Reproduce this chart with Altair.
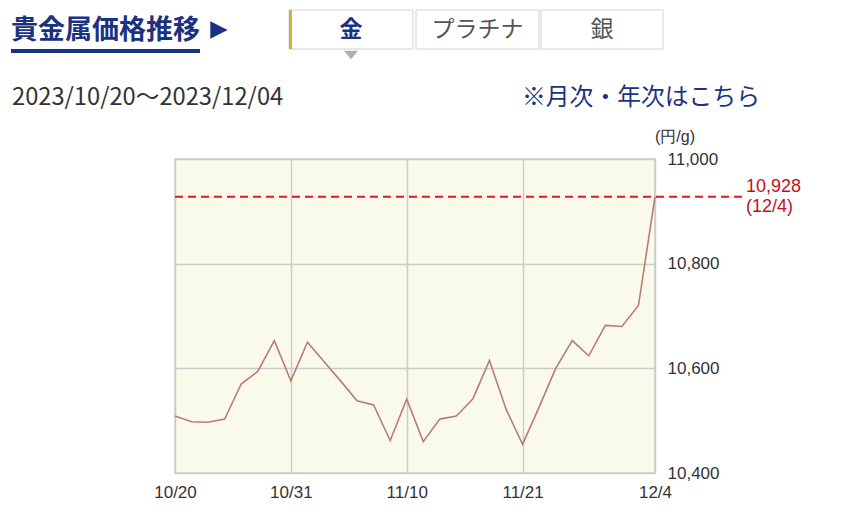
import altair as alt
import pandas as pd

# ---- data ----
dates = ["10/20", "10/23", "10/24", "10/25", "10/26", "10/27", "10/30", "10/31",
         "11/1", "11/2", "11/6", "11/7", "11/8", "11/9", "11/10",
         "11/13", "11/14", "11/15", "11/16", "11/17", "11/20", "11/21",
         "11/22", "11/24", "11/27", "11/28", "11/29", "11/30", "12/1", "12/4"]
prices = [10509, 10498, 10497, 10503, 10570, 10594, 10653, 10576,
          10650, 10613, 10576, 10538, 10530, 10462, 10541,
          10460, 10503, 10509, 10542, 10615, 10522, 10455,
          10526, 10600, 10653, 10624, 10682, 10680, 10720, 10928]
x_ticks = ["10/20", "10/31", "11/10", "11/21", "12/4"]
y_ticks = [10400, 10600, 10800, 11000]
latest_price = 10928
latest_label = "10,928"
latest_date = "(12/4)"
title_text = "貴金属価格推移"
tabs = ["金", "プラチナ", "銀"]
period_text = "2023/10/20〜2023/12/04"
link_text = "※月次・年次はこちら"
unit_text = "(円/g)"

df = pd.DataFrame({"i": list(range(len(dates))), "date": dates, "price": prices})
ref_df = pd.DataFrame({"price": [latest_price]})
tick_idx = [dates.index(d) for d in x_ticks]
label_expr = "[" + ",".join("'" + d + "'" for d in dates) + "][datum.value]"

CJK = "Noto Sans CJK JP"
NUM = "Liberation Sans"
NAVY = "#1a3281"
RED_TXT = "#c0101c"

one = alt.Data(values=[{"k": 1}])

xenc = alt.X("i:Q", scale=alt.Scale(domain=[0, len(dates) - 1], nice=False, zero=False),
             axis=alt.Axis(values=tick_idx, labelExpr=label_expr, title=None, labelAngle=0,
                           ticks=False, domain=False, grid=True, labelPadding=11,
                           labelOverlap=False, labelFlush=False, labelBound=False))
yaxis = alt.Axis(values=y_ticks, format=",.0f", orient="right", title=None,
                 ticks=False, domain=False, grid=True, labelPadding=12)
yscale = alt.Scale(domain=[10400, 11000], nice=False, zero=False)
yenc = alt.Y("price:Q", scale=yscale, axis=yaxis)

line = alt.Chart(df).mark_line(color="#b97b7b", strokeWidth=1.6).encode(x=xenc, y=yenc)

ref = alt.Chart(ref_df).mark_rule(color="#e8141e", strokeDash=[8, 5], strokeWidth=2).encode(
    y=yenc, x=alt.value(0), x2=alt.value(568))
ref_t1 = alt.Chart(ref_df).mark_text(text=latest_label, align="left", baseline="middle",
                                     dy=-10, font=NUM, fontSize=18, color=RED_TXT).encode(
    y=yenc, x=alt.value(571))
ref_t2 = alt.Chart(ref_df).mark_text(text=latest_date, align="left", baseline="middle",
                                     dy=10, font=NUM, fontSize=18, color=RED_TXT).encode(
    y=yenc, x=alt.value(571))

unit = alt.Chart(one).mark_text(text=unit_text, align="left", baseline="middle",
                                font=NUM, fontSize=16, color="#333333").encode(
    x=alt.value(480), y=alt.value(-22))

# header
title = alt.Chart(one).mark_text(text=title_text, align="left", baseline="middle",
                                 font=CJK, fontSize=27, fontWeight="bold", color=NAVY).encode(
    x=alt.value(-164), y=alt.value(-128))
underline = alt.Chart(one).mark_rule(color=NAVY, strokeWidth=4).encode(
    x=alt.value(-164), x2=alt.value(25), y=alt.value(-108))
arrow = alt.Chart(one).mark_point(shape="M -1 -1 L 1 0 L -1 1 Z", size=300,
                                  filled=True, color=NAVY, opacity=1).encode(
    x=alt.value(44), y=alt.value(-129))

tab_boxes = []
tab_x = [(114, 238), (241, 364), (366, 488)]
for (a, b) in tab_x:
    tab_boxes.append(alt.Chart(one).mark_rect(fill="white", stroke="#d4d4d4", strokeWidth=1).encode(
        x=alt.value(a), x2=alt.value(b), y=alt.value(-149), y2=alt.value(-110)))
gold = alt.Chart(one).mark_rect(fill="#d6ad3c").encode(
    x=alt.value(114), x2=alt.value(117), y=alt.value(-149), y2=alt.value(-110))
tab_texts = []
for i, t in enumerate(tabs):
    a, b = tab_x[i]
    tab_texts.append(alt.Chart(one).mark_text(
        text=t, align="center", baseline="middle", font=CJK, fontSize=23,
        fontWeight="bold" if i == 0 else "normal",
        color=NAVY if i == 0 else "#555555").encode(
        x=alt.value((a + b) / 2), y=alt.value(-129)))
caret = alt.Chart(one).mark_point(shape="M -1 -0.6 L 1 -0.6 L 0 0.6 Z", size=200,
                                  filled=True, color="#b0b0b0", opacity=1).encode(
    x=alt.value(176), y=alt.value(-104))

period = alt.Chart(one).mark_text(text=period_text, align="left", baseline="middle",
                                  font=CJK, fontSize=23.7, color="#333333").encode(
    x=alt.value(-163), y=alt.value(-61))
link = alt.Chart(one).mark_text(text=link_text, align="left", baseline="middle",
                                font=CJK, fontSize=23.8, color=NAVY).encode(
    x=alt.value(347), y=alt.value(-61))

chart = alt.layer(
    line, ref, ref_t1, ref_t2, unit, title, underline, arrow,
    *tab_boxes, gold, *tab_texts, caret, period, link
).properties(
    width=480, height=314,
    padding={"left": 167, "top": 151, "right": 190, "bottom": 45},
    autosize=alt.AutoSizeParams(type="none"),
    background="white",
).configure_view(
    fill="#fafaeb", stroke="#cccccc", strokeWidth=1.5
).configure_axis(
    gridColor="#cccccc", gridWidth=1.5, labelColor="#333333",
    labelFont=NUM, labelFontSize=17
)

chart.save("out.html", embed_options={"renderer": "svg", "actions": False})
